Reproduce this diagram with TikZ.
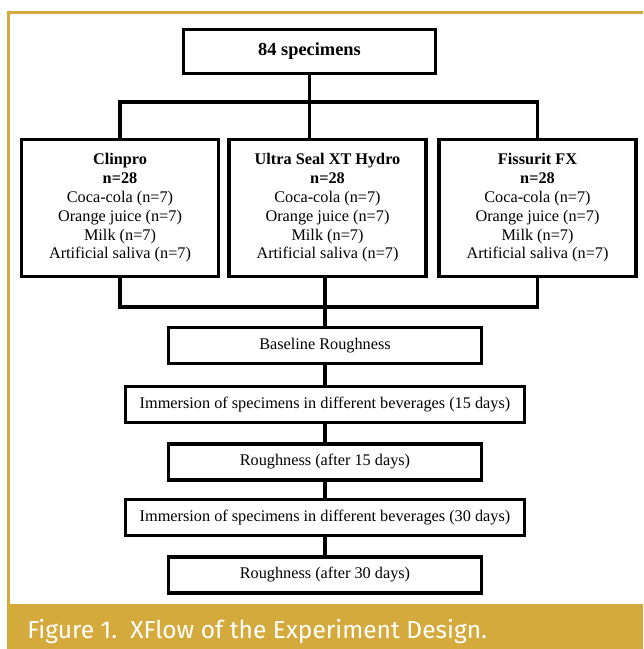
\documentclass[tikz,border=0pt]{standalone}
\usepackage{fontspec}
\setmainfont{Liberation Serif}
\newfontfamily\capfont{Fira Sans}
\usepackage{xcolor}
\definecolor{gold}{RGB}{213,170,60}

\begin{document}
\begin{tikzpicture}[x=.75pt,y=.75pt,
  box/.style={draw,line width=2.3pt,inner sep=0pt,align=center,font=\fontsize{12.2}{14.1}\selectfont},
  group/.style={box,minimum width=147.75pt,minimum height=102.75pt},
  stepbox/.style={box,minimum width=234.75pt,minimum height=27pt},
  longbox/.style={box,minimum width=299.25pt,minimum height=27pt},
  conn/.style={line width=2.3pt}]
\useasboundingbox (0,0) rectangle (643,649);
\fill[gold] (7,0) rectangle (643,45);
\draw[gold,line width=2.25pt] (8.5,45) -- (8.5,636.5) -- (643,636.5);
\node[anchor=base west,text=white,inner sep=0pt,font=\capfont\fontsize{18.4}{20}\selectfont] (cap) at (27,11) {Figure 1.\ \ XFlow of the Experiment Design.};

\node[box,minimum width=189pt,minimum height=33pt,font=\bfseries\fontsize{13.8}{16}\selectfont] (top) at (309.5,597.5) {84 specimens};
\node[group] (clinpro) at (120,441) {\textbf{Clinpro}\\\textbf{n=28}\\Coca-cola (n=7)\\Orange juice (n=7)\\Milk (n=7)\\Artificial saliva (n=7)};
\node[group] (ultra) at (327.5,441) {\textbf{Ultra Seal XT Hydro}\\\textbf{n=28}\\Coca-cola (n=7)\\Orange juice (n=7)\\Milk (n=7)\\Artificial saliva (n=7)};
\node[group] (fissurit) at (537.5,441) {\textbf{Fissurit FX}\\\textbf{n=28}\\Coca-cola (n=7)\\Orange juice (n=7)\\Milk (n=7)\\Artificial saliva (n=7)};
\node[stepbox] (base) at (325,303.5) {Baseline Roughness};
\node[longbox] (imm15) at (325,244.5) {Immersion of specimens in different beverages (15 days)};
\node[stepbox] (rough15) at (325,187) {Roughness (after 15 days)};
\node[longbox] (imm30) at (325,131.5) {Immersion of specimens in different beverages (30 days)};
\node[stepbox] (rough30) at (325,74) {Roughness (after 30 days)};

\coordinate (split) at (0,547);
\coordinate (join) at (0,342);
\draw[conn] (top.south) -- (top.south |- ultra.north);
\draw[conn] (clinpro.north) -- (clinpro.north |- split) -- (fissurit.north |- split) -- (fissurit.north);
\draw[conn] (clinpro.south) -- (clinpro.south |- join) -- (fissurit.south |- join) -- (fissurit.south);
\draw[conn] (base.north |- ultra.south) -- (base.north);
\foreach \a/\b in {base/imm15,imm15/rough15,rough15/imm30,imm30/rough30}
  \draw[conn] (\a.south) -- (\b.north);
\end{tikzpicture}
\end{document}
